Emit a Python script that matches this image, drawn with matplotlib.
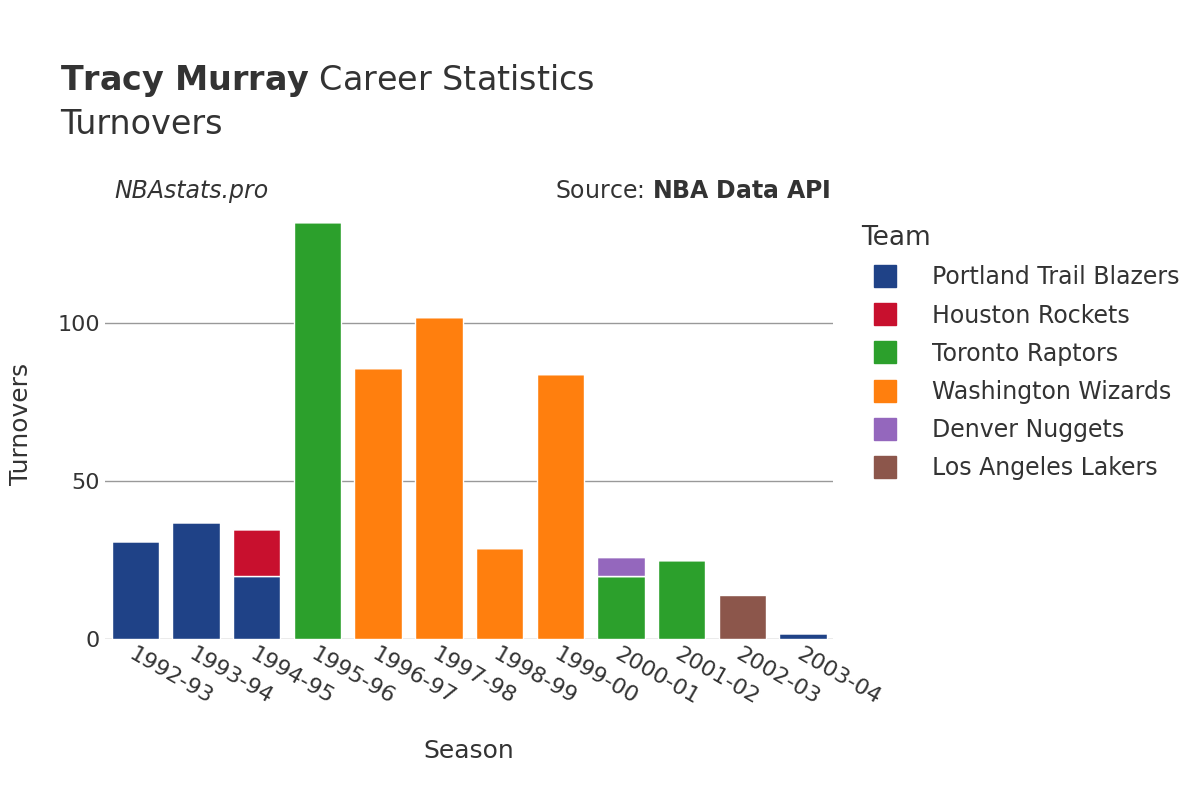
import numpy as np
import matplotlib.pyplot as plt
from matplotlib.lines import Line2D

seasons = ["1992-93", "1993-94", "1994-95", "1995-96", "1996-97", "1997-98",
           "1998-99", "1999-00", "2000-01", "2001-02", "2002-03", "2003-04"]
teams = ["Portland Trail Blazers", "Houston Rockets", "Toronto Raptors",
         "Washington Wizards", "Denver Nuggets", "Los Angeles Lakers"]
colors = ["#1f4287", "#c8102e", "#2ca02c", "#ff7f0e", "#9467bd", "#8c564b"]
# turnovers per team per season (stacked in team order)
portland = [31, 37, 20, 0, 0, 0, 0, 0, 0, 0, 0, 2]
houston = [0, 0, 15, 0, 0, 0, 0, 0, 0, 0, 0, 0]
toronto = [0, 0, 0, 132, 0, 0, 0, 0, 20, 25, 0, 0]
washington = [0, 0, 0, 0, 86, 102, 29, 84, 0, 0, 0, 0]
denver = [0, 0, 0, 0, 0, 0, 0, 0, 6, 0, 0, 0]
lakers = [0, 0, 0, 0, 0, 0, 0, 0, 0, 0, 14, 0]
series = [portland, houston, toronto, washington, denver, lakers]

fig = plt.figure(figsize=(12, 8), dpi=100)
ax = fig.add_axes([0.0875, 0.201, 0.607, 0.537])
x = np.arange(len(seasons))
bottom = np.zeros(len(seasons))
for vals, col in zip(series, colors):
    v = np.array(vals, dtype=float)
    ax.bar(x, v, bottom=bottom, width=0.78, color=col, edgecolor="white", linewidth=1)
    bottom += v

ax.set_xlim(-0.5, len(seasons) - 0.5)
ax.set_ylim(0, 136)
ax.set_yticks([0, 50, 100])
ax.yaxis.grid(True, color="#999999", linewidth=1)
ax.set_axisbelow(True)
for s in ax.spines.values():
    s.set_visible(False)
ax.tick_params(length=0, labelsize=16, colors="#333333")
ax.set_xticks(x)
ax.set_xticklabels(seasons, rotation=-30, ha="left", rotation_mode="anchor")
ax.set_xlabel("Season", fontsize=18, color="#333333", labelpad=22)
ax.set_ylabel("Turnovers", fontsize=18, color="#333333", labelpad=18)

fig.text(0.05, 0.887, r"$\bf{Tracy\ Murray}$ Career Statistics", fontsize=24, color="#333333")
fig.text(0.05, 0.833, "Turnovers", fontsize=24, color="#333333")
fig.text(0.095, 0.752, "NBAstats.pro", fontsize=17, style="italic", color="#333333")
fig.text(0.692, 0.752, r"Source: $\bf{NBA\ Data\ API}$", fontsize=17, color="#333333", ha="right")

handles = [Line2D([0], [0], marker="s", linestyle="", markersize=16, color=c) for c in colors]
leg = fig.legend(handles, teams, loc="upper left", bbox_to_anchor=(0.70, 0.745),
                 frameon=False, fontsize=17, title="Team", title_fontsize=19,
                 labelspacing=0.6, handletextpad=1.0, labelcolor="#333333")
leg._legend_box.align = "left"
leg.get_title().set_color("#333333")

fig.savefig("out.png", dpi=100)
